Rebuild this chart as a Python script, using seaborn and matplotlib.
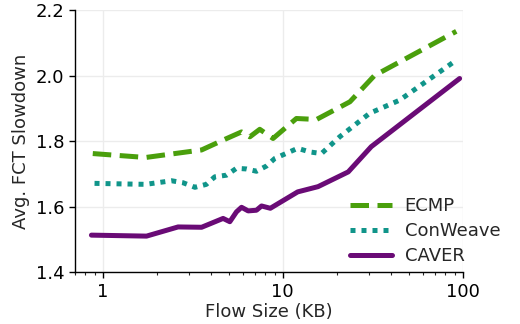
import numpy as np
import pandas as pd
import matplotlib
matplotlib.use("Agg")
import matplotlib.pyplot as plt
import seaborn as sns

# values
ecmp_x = [0.88, 1.73, 3.54, 4.66, 5.9, 6.56, 7.45, 8.83, 11.9, 15.4, 23.6, 32.3, 92]
ecmp_y = [1.762, 1.75, 1.773, 1.803, 1.828, 1.813, 1.836, 1.808, 1.869, 1.866, 1.92, 2.0, 2.135]

conweave_x = [0.9, 1.73, 2.41, 2.79, 3.25, 3.76, 4.19, 4.87, 5.53, 6.28, 7.14, 8.12,
              9.03, 10.4, 12.1, 14.1, 16.4, 20.7, 30.4, 44.6, 92]
conweave_y = [1.671, 1.668, 1.679, 1.673, 1.659, 1.668, 1.691, 1.696, 1.717, 1.715, 1.708, 1.724,
              1.747, 1.762, 1.778, 1.767, 1.762, 1.813, 1.885, 1.925, 2.047]

caver_x = [0.865, 1.75, 2.62, 3.54, 4.66, 5.08, 5.53, 5.9, 6.42, 7.14, 7.62, 8.53,
           12.1, 15.7, 23.1, 31.0, 96]
caver_y = [1.513, 1.51, 1.538, 1.537, 1.564, 1.554, 1.584, 1.598, 1.587, 1.589, 1.602, 1.595,
           1.645, 1.661, 1.706, 1.783, 1.991]

names = ["ECMP", "ConWeave", "CAVER"]
colors = ["#4a9f0c", "#10958a", "#6a0b76"]

sns.set_style("ticks")
plt.rcParams["font.family"] = ["DejaVu Sans"]

fig = plt.figure(figsize=(5.2, 3.24), dpi=100)
ax = fig.add_axes([0.144, 0.160, 0.746, 0.809])

lw = 3.6
sns.lineplot(x=ecmp_x, y=ecmp_y, ax=ax, color=colors[0], lw=lw, label=names[0],
             estimator=None)
sns.lineplot(x=conweave_x, y=conweave_y, ax=ax, color=colors[1], lw=lw, label=names[1],
             estimator=None)
sns.lineplot(x=caver_x, y=caver_y, ax=ax, color=colors[2], lw=lw, label=names[2],
             estimator=None)
lines = ax.get_lines()
lines[0].set_dashes([3.7, 1.7])
lines[0].set_dash_capstyle("butt")
lines[1].set_dashes([1.0, 1.2])
lines[1].set_dash_capstyle("butt")

ax.set_xscale("log")
ax.set_xlim(0.7, 100)
ax.set_ylim(1.4, 2.2)
ax.set_yticks([1.4, 1.6, 1.8, 2.0, 2.2])
ax.set_xticks([1, 10, 100])
ax.set_xticklabels(["1", "10", "100"])
ax.grid(True, which="major", color="#ececec", lw=1)
ax.set_axisbelow(True)
for s in ["top", "right"]:
    ax.spines[s].set_visible(False)
for s in ["left", "bottom"]:
    ax.spines[s].set_color("black")
    ax.spines[s].set_linewidth(1)
ax.tick_params(labelsize=13, colors="black", length=4, width=1)
ax.tick_params(which="minor", length=2, width=0.8)
ax.set_xlabel("Flow Size (KB)", fontsize=13, labelpad=2)
ax.set_ylabel("Avg. FCT Slowdown", fontsize=13)

leg = ax.legend(loc="lower right", bbox_to_anchor=(1.115, 0.0), frameon=False, fontsize=13,
                handlelength=2.3, handletextpad=0.7, labelspacing=0.38, borderaxespad=0)
leg.get_lines()[0].set_dashes([3.7, 1.7])
leg.get_lines()[1].set_dashes([1.0, 1.2])

fig.savefig("out.png", dpi=100)
